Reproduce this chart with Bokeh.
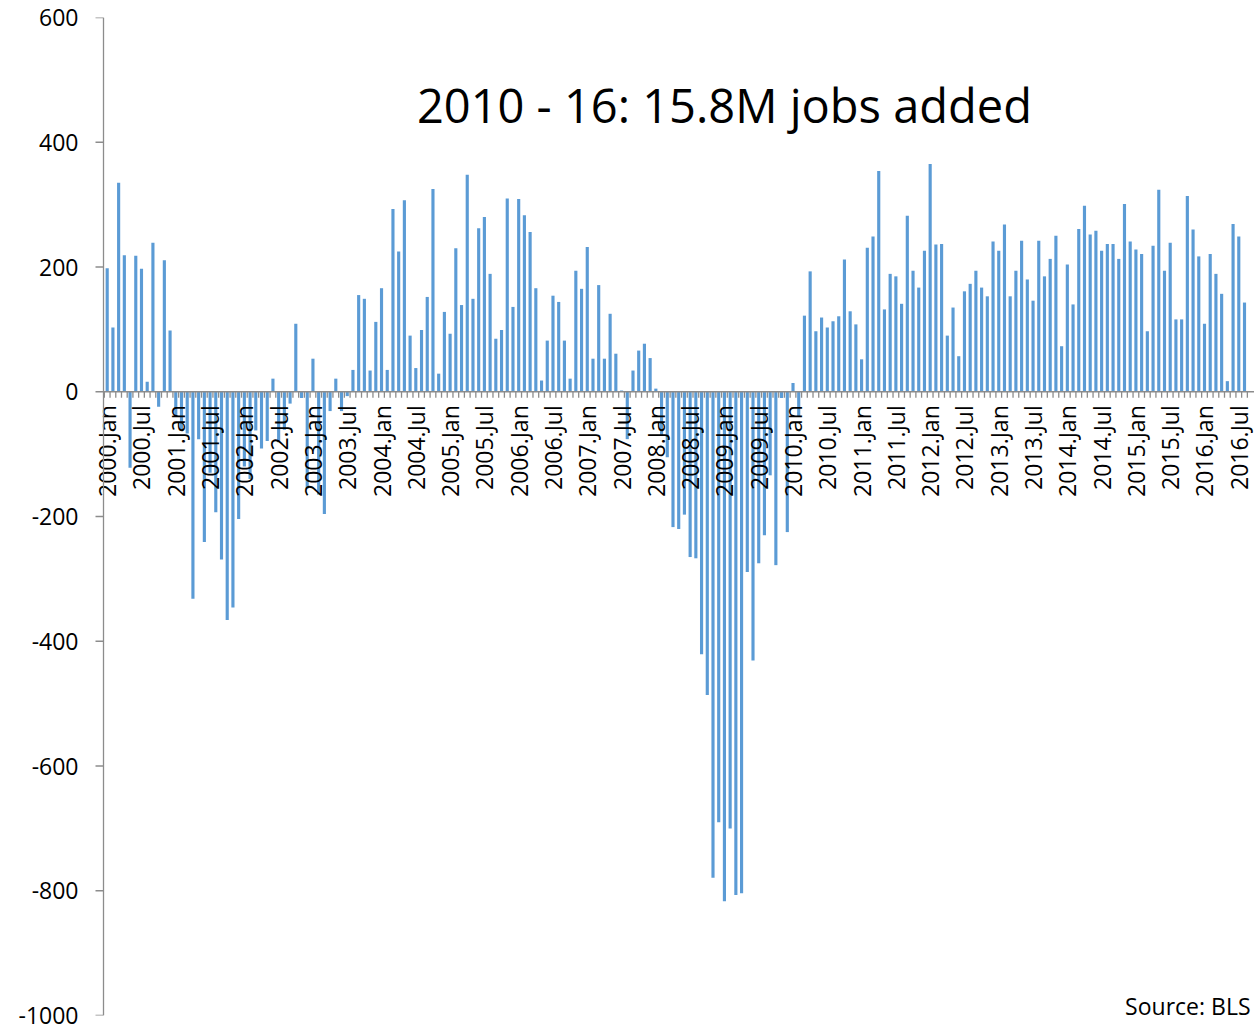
import math
from bokeh.plotting import figure
from bokeh.models import Range1d, FixedTicker, Label, ColumnDataSource
from bokeh.core.properties import value
from bokeh.embed import file_html
from bokeh.resources import INLINE

# ---- data (monthly change in jobs, thousands) ----
years = list(range(2000, 2017))
month_names = ["Jan", "Feb", "Mar", "Apr", "May", "Jun",
               "Jul", "Aug", "Sep", "Oct", "Nov", "Dec"]

v2000 = [198, 103, 335, 219, -122, 218, 197, 16, 239, -24, 211, 98]
v2001 = [-40, -60, -67, -332, -76, -241, -130, -193, -269, -366, -346, -204]
v2002 = [-120, -140, -62, -91, -79, 21, -81, -61, -19, 109, -10, -155]
v2003 = [53, -165, -196, -31, 21, -31, -7, 35, 155, 149, 34, 112]
v2004 = [166, 35, 293, 225, 307, 90, 38, 99, 152, 325, 29, 128]
v2005 = [93, 230, 139, 348, 149, 262, 280, 189, 85, 99, 310, 136]
v2006 = [309, 283, 256, 166, 18, 82, 154, 144, 82, 21, 194, 165]
v2007 = [232, 53, 171, 53, 125, 61, 2, -76, 34, 66, 77, 54]
v2008 = [5, -70, -105, -217, -220, -197, -265, -267, -421, -486, -779, -690]
v2009 = [-817, -700, -807, -804, -289, -431, -275, -230, -134, -278, -10, -225]
v2010 = [14, -39, 122, 193, 97, 119, 103, 113, 121, 212, 129, 108]
v2011 = [52, 231, 249, 354, 132, 189, 185, 141, 282, 194, 167, 226]
v2012 = [365, 236, 237, 90, 135, 57, 161, 173, 194, 167, 153, 241]
v2013 = [226, 268, 153, 194, 242, 180, 146, 242, 185, 213, 250, 73]
v2014 = [204, 140, 261, 298, 252, 258, 226, 237, 237, 213, 301, 241]
v2015 = [228, 221, 97, 234, 324, 194, 239, 116, 116, 314, 260, 217]
v2016 = [109, 221, 189, 157, 17, 269, 249, 143]

y_ticks = [-1000, -800, -600, -400, -200, 0, 200, 400, 600]
title_text = "2010 - 16: 15.8M jobs added"
source_text = "Source: BLS"

series = [v2000, v2001, v2002, v2003, v2004, v2005, v2006, v2007, v2008,
          v2009, v2010, v2011, v2012, v2013, v2014, v2015, v2016]
values = [v for yr in series for v in yr]
labels = []
for y, vals in zip(years, series):
    for m in range(len(vals)):
        labels.append(f"{y}.{month_names[m]}")
idx = list(range(len(values)))

# ---- layout constants ----
W, H = 1254, 1030
BORDER_L, BORDER_T, BORDER_B = 90, 17, 15
Y0, Y1 = -1000, 600
X0, X1 = -2.922, 200.75
Y_AXIS_X = -0.647            # where the value axis line is drawn
FRAME_H = H - BORDER_T - BORDER_B
px = (Y1 - Y0) / FRAME_H     # data units per pixel on y
AX = "#8c8c8c"
BAR = "#5B9BD5"
FONT = "Open Sans"

p = figure(width=W, height=H, output_backend="svg", toolbar_location=None,
           x_range=Range1d(X0, X1), y_range=Range1d(Y0, Y1),
           x_axis_location=None,
           min_border_left=BORDER_L, min_border_right=0,
           min_border_top=BORDER_T, min_border_bottom=BORDER_B)
p.outline_line_color = None
p.grid.visible = False
p.background_fill_color = "white"
p.border_fill_color = "white"

src = ColumnDataSource(dict(x=idx, top=values, label=labels))
p.vbar(x="x", top="top", bottom=0, width=0.55, source=src,
       fill_color=BAR, line_color=None)

# category axis drawn at zero
p.segment(x0=[Y_AXIS_X], y0=[0], x1=[X1], y1=[0], line_color=AX, line_width=1.3)
tick_x = [i - 0.5 for i in range(len(values) + 1)]
p.ray(x=tick_x, y=[0] * len(tick_x), length=6, length_units="screen",
      angle=-math.pi / 2, line_color=AX, line_width=1.3)

lab_idx = [i for i, l in enumerate(labels) if l.endswith(".Jan") or l.endswith(".Jul")]
lab_src = ColumnDataSource(dict(x=lab_idx,
                                y=[-13.5 * px] * len(lab_idx),
                                text=[labels[i] for i in lab_idx]))
p.text(x="x", y="y", text="text", source=lab_src, angle=math.pi / 2,
       text_align="right", text_baseline="middle",
       text_font=value(FONT), text_font_size="23px", text_color="black")

# value axis: line and tick marks at the crossing, labels from the library axis
p.segment(x0=[Y_AXIS_X], y0=[Y0], x1=[Y_AXIS_X], y1=[Y1], line_color=AX, line_width=1.3)
p.ray(x=[Y_AXIS_X] * len(y_ticks), y=y_ticks, length=8, length_units="screen",
      angle=math.pi, line_color=AX, line_width=1.3)

ax = p.yaxis[0]
ax.ticker = FixedTicker(ticks=y_ticks)
ax.major_label_overrides = {t: str(t) for t in y_ticks}
ax.axis_line_color = None
ax.major_tick_line_color = None
ax.major_tick_out = 0
ax.major_tick_in = 0
ax.minor_tick_line_color = None
ax.major_label_standoff = 12
ax.major_label_text_font = FONT
ax.major_label_text_font_size = "23px"
ax.major_label_text_color = "black"

# title inside plot
p.add_layout(Label(x=108.0, y=459, text=title_text, text_align="center",
                   text_baseline="alphabetic", text_font=FONT,
                   text_font_size="47px", text_color="black"))
p.add_layout(Label(x=X1 - 0.7, y=-985, text=source_text, text_align="right",
                   text_baseline="alphabetic", text_font=FONT,
                   text_font_size="23px", text_color="black"))

open("out.html", "w").write(file_html(p, INLINE))
